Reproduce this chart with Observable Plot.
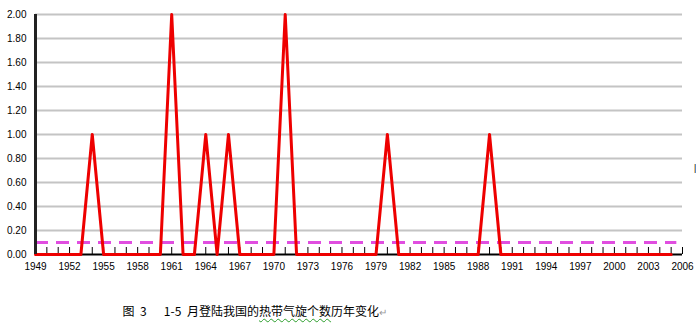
<!DOCTYPE html>
<html>
<head>
<meta charset="utf-8">
<script src="https://cdn.jsdelivr.net/npm/d3@7"></script>
<script src="https://cdn.jsdelivr.net/npm/@observablehq/plot@0.6"></script>
<style>
  html, body { margin: 0; padding: 0; background: #fff; }
  #wrap { position: relative; width: 696px; height: 329px; overflow: hidden; background: #fff; }
  #cap { position: absolute; top: 305px; left: 0; width: 696px; height: 16px;
         font-family: "Noto Sans CJK SC", sans-serif; font-size: 12px; line-height: 12px; color: #000; white-space: pre; }
  #capA { position: absolute; right: 497px; top: 0; word-spacing: 3px; }
  #capB { position: absolute; left: 199px; top: 0; }
  .wavy { text-decoration: underline wavy #2a9d2a; text-decoration-thickness: 1px; text-underline-offset: 2px; }
  .ret { color: #999; font-size: 10px; }
  #cursor { position: absolute; left: 694px; top: 163px; font: 9px "Liberation Sans"; color: #000; }
</style>
</head>
<body>
<div id="wrap">
  <div id="chart"></div>
  <div id="cursor">|</div>
  <div id="cap"><span id="capA">图 3   1-5 月</span><span id="capB">登陆我国的<span class="wavy">热带气旋个数</span>历年变化<span class="ret">↵</span></span></div>
</div>
<script>
// Years with data (1949–2005)
const years = [1949,1950,1951,1952,1953,1954,1955,1956,1957,1958,1959,1960,1961,1962,1963,1964,1965,1966,1967,1968,1969,1970,1971,1972,1973,1974,1975,1976,1977,1978,1979,1980,1981,1982,1983,1984,1985,1986,1987,1988,1989,1990,1991,1992,1993,1994,1995,1996,1997,1998,1999,2000,2001,2002,2003,2004,2005];
// Number of landfalling tropical cyclones, Jan–May
const counts = [0,0,0,0,0,1,0,0,0,0,0,0,2,0,0,1,0,1,0,0,0,0,2,0,0,0,0,0,0,0,0,1,0,0,0,0,0,0,0,0,1,0,0,0,0,0,0,0,0,0,0,0,0,0,0,0,0];
// Mean level (dashed line)
const meanValue = 0.1;
// Axis ticks
const xTickYears = [1950,1951,1952,1953,1954,1955,1956,1957,1958,1959,1960,1961,1962,1963,1964,1965,1966,1967,1968,1969,1970,1971,1972,1973,1974,1975,1976,1977,1978,1979,1980,1981,1982,1983,1984,1985,1986,1987,1988,1989,1990,1991,1992,1993,1994,1995,1996,1997,1998,1999,2000,2001,2002,2003,2004,2005,2006];
const xLabels = [1949,1952,1955,1958,1961,1964,1967,1970,1973,1976,1979,1982,1985,1988,1991,1994,1997,2000,2003,2006];
const yTicks = [0,0.2,0.4,0.6,0.8,1.0,1.2,1.4,1.6,1.8,2.0];
const xDomain = [1949, 2006];

const data = years.map((yr, i) => ({year: yr, n: counts[i]}));

const chart = Plot.plot({
  width: 696,
  height: 290,
  marginLeft: 35,
  marginRight: 14,
  marginTop: 14,
  marginBottom: 36,
  style: {fontFamily: "'Liberation Sans', Arial, sans-serif", fontSize: "10px", color: "#000", background: "#fff", overflow: "visible"},
  x: {domain: xDomain, ticks: xLabels, tickFormat: d => String(d), tickSize: 0, tickPadding: 8, label: null},
  y: {domain: [0, 2], ticks: yTicks, tickFormat: d => d.toFixed(2), tickSize: 0, tickPadding: 9, label: null},
  marks: [
    Plot.ruleY(yTicks.filter(d => d > 0), {stroke: "#c4c4c4", strokeWidth: 2}),
    Plot.ruleY([0], {stroke: "#000", strokeWidth: 2}),
    Plot.ruleX(xTickYears, {x: d => d, y1: 0, y2: 0, insetBottom: 7, stroke: "#000", strokeWidth: 1}),
    Plot.ruleY([meanValue], {x1: years[0], x2: years[years.length - 1] + 0.5, stroke: "#e04ee0", strokeWidth: 3, strokeDasharray: "13,8"}),
    Plot.line(data, {x: "year", y: "n", stroke: "#ee0000", strokeWidth: 3, strokeLinejoin: "round"}),
    Plot.ruleX([xDomain[0]], {stroke: "#222", strokeWidth: 3})
  ]
});
document.getElementById("chart").appendChild(chart);
</script>
</body>
</html>
